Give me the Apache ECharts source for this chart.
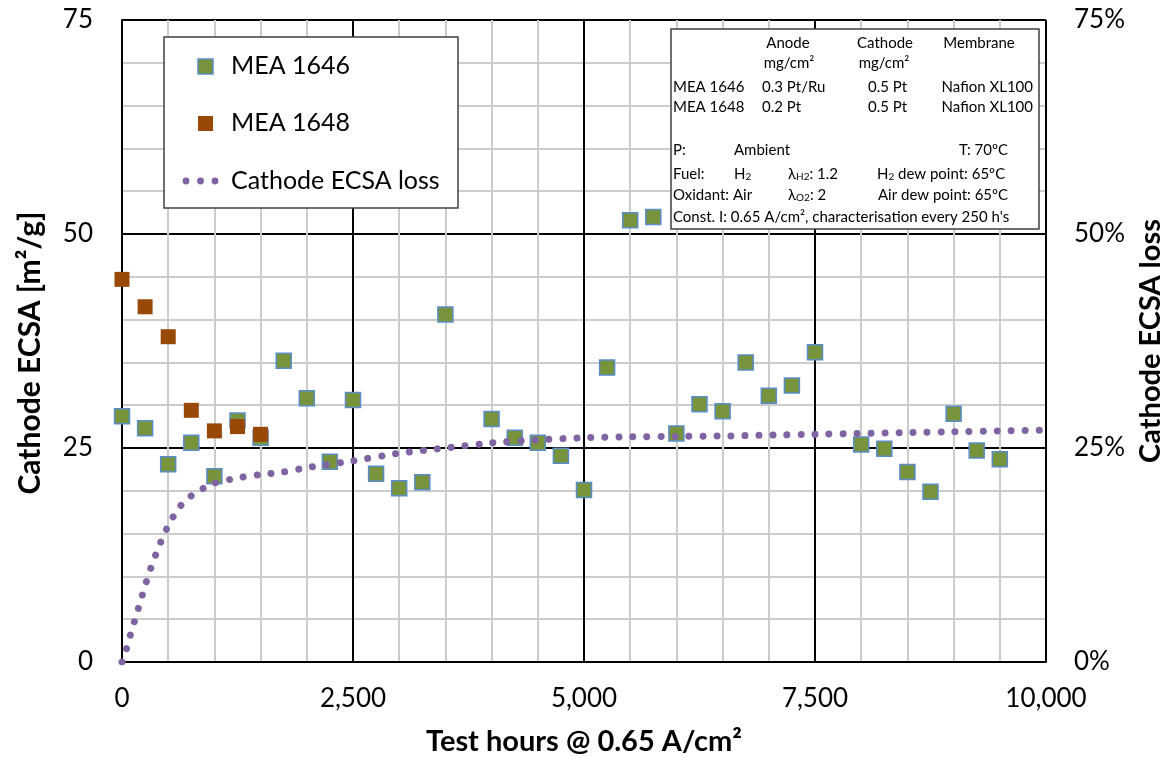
<!DOCTYPE html>
<html><head><meta charset="utf-8">
<script src="https://cdn.jsdelivr.net/npm/echarts@6/dist/echarts.min.js"></script>
<style>html,body{margin:0;padding:0;background:#fff}#chart{width:1168px;height:758px}</style>
</head><body><div id="chart"></div>
<script>
// ---- data ----
const hours1646 = [0,250,500,750,1000,1250,1500,1750,2000,2250,2500,2750,3000,3250,3500,4000,4250,4500,4750,5000,5250,5500,5750,6000,6250,6500,6750,7000,7250,7500,8000,8250,8500,8750,9000,9250,9500];
const ecsa1646 = [28.7,27.3,23.1,25.6,21.7,28.2,26.2,35.2,30.8,23.4,30.6,22.0,20.3,21.0,40.6,28.4,26.2,25.6,24.1,20.1,34.4,51.6,52.0,26.7,30.1,29.3,35.0,31.1,32.3,36.2,25.4,24.9,22.2,19.9,29.0,24.7,23.7];
const hours1648 = [0,250,500,750,1000,1250,1500];
const ecsa1648 = [44.7,41.5,38.0,29.4,27.0,27.5,26.6];
const lossHours = [0,50,100,150,200,250,300,350,400,450,500,600,700,800,900,1000,1250,1500,1750,2000,2500,3000,3500,4000,4500,5000,5500,6000,6500,7000,7500,8000,8500,9000,9500,10000];
const lossPct = [0,1.6,3.5,5.3,7.1,8.9,10.6,12.1,13.5,14.8,15.9,17.8,19.0,19.8,20.4,20.9,21.5,21.9,22.2,22.7,23.5,24.4,25.0,25.6,25.95,26.2,26.3,26.35,26.4,26.5,26.6,26.7,26.8,26.9,27.0,27.1];
const seriesNames = ['MEA 1646','MEA 1648','Cathode ECSA loss'];
const xTitle = 'Test hours @ 0.65 A/cm\u00b2';
const yTitle = 'Cathode ECSA [m\u00b2/g]';
const y2Title = 'Cathode ECSA loss';

const GREEN = '#77933C', BLUE = '#5B8DC9', ORANGE = '#984807', PURPLE = '#8064A2';
const FONT = 'Lato, "Open Sans", sans-serif';

const zip = (a, b) => a.map((v, i) => [v, b[i]]);

// ---- info box text ----
const INFO_FS = 15;
const infoItems = [
  ['Anode', 788, 43, 'center'], ['Cathode', 885, 43, 'center'], ['Membrane', 979, 43, 'center'],
  ['mg/cm\u00b2', 789, 63, 'center'], ['mg/cm\u00b2', 884, 63, 'center'],
  ['MEA 1646', 673, 87, 'left'], ['0.3 Pt/Ru', 762, 87, 'left'], ['0.5 Pt', 868, 87, 'left'], ['Nafion XL100', 1033, 87, 'right'],
  ['MEA 1648', 673, 107, 'left'], ['0.2 Pt', 762, 107, 'left'], ['0.5 Pt', 868, 107, 'left'], ['Nafion XL100', 1033, 107, 'right'],
  ['P:', 673, 150, 'left'], ['Ambient', 734, 150, 'left'], ['T: 70\u00baC', 1008, 150, 'right'],
  ['Fuel:', 673, 174, 'left'], ['H{sub|2}', 734, 174, 'left'], ['\u03bb{sub|H2}: 1.2', 788, 174, 'left'], ['H{sub|2} dew point: 65\u00baC', 877, 174, 'left'],
  ['Oxidant: Air', 673, 195, 'left'], ['\u03bb{sub|O2}: 2', 788, 195, 'left'], ['Air dew point: 65\u00baC', 878, 195, 'left'],
  ['Const. I: 0.65 A/cm\u00b2, characterisation every 250 h\'s', 673, 217, 'left']
];

const LEG_FONT = '25px ' + FONT;
const graphics = [
  // legend box
  {type:'rect', z:50, shape:{x:164, y:37, width:294, height:171}, style:{fill:'#fff', stroke:'#404040', lineWidth:1.5}},
  {type:'rect', z:51, shape:{x:198, y:59, width:15, height:15}, style:{fill:GREEN, stroke:BLUE, lineWidth:1.5}},
  {type:'text', z:51, x:231, y:66, style:{text:seriesNames[0], font:LEG_FONT, fill:'#000', textVerticalAlign:'middle'}},
  {type:'rect', z:51, shape:{x:198, y:116, width:15, height:15}, style:{fill:ORANGE}},
  {type:'text', z:51, x:231, y:123, style:{text:seriesNames[1], font:LEG_FONT, fill:'#000', textVerticalAlign:'middle'}},
  {type:'circle', z:51, shape:{cx:186, cy:181, r:3.4}, style:{fill:PURPLE}},
  {type:'circle', z:51, shape:{cx:200.5, cy:181, r:3.4}, style:{fill:PURPLE}},
  {type:'circle', z:51, shape:{cx:215, cy:181, r:3.4}, style:{fill:PURPLE}},
  {type:'text', z:51, x:231, y:181, style:{text:seriesNames[2], font:LEG_FONT, fill:'#000', textVerticalAlign:'middle'}},
  // info box
  {type:'rect', z:50, shape:{x:671, y:29, width:368, height:200}, style:{fill:'#fff', stroke:'#404040', lineWidth:1.5}}
];
infoItems.forEach(([t, x, y, al]) => {
  graphics.push({type:'text', z:51, x:x, y:y, style:{
    text:t, fontSize:INFO_FS, fontFamily:FONT, fill:'#000', align:al, verticalAlign:'middle',
    rich:{sub:{fontSize:10, fontFamily:FONT, fill:'#000', verticalAlign:'bottom', padding:[6,0,0,0]}}
  }});
});

const chart = echarts.init(document.getElementById('chart'), null, {renderer:'canvas'});
chart.setOption({
  animation:false,
  backgroundColor:'#fff',
  textStyle:{fontFamily:FONT},
  grid:{left:122, right:122, top:20, bottom:96, containLabel:false, outerBoundsMode:'none'},
  xAxis:{
    type:'value', min:0, max:10000, interval:2500,
    axisLine:{show:true, onZero:false, lineStyle:{color:'#000', width:2}},
    axisTick:{show:false},
    axisLabel:{fontSize:26, color:'#000', margin:24, fontFamily:FONT, formatter:v => v.toLocaleString('en-US')},
    splitLine:{show:true, lineStyle:{color:'#000', width:2}},
    minorTick:{show:false, splitNumber:5},
    minorSplitLine:{show:true, lineStyle:{color:'#CCCCCC', width:2}},
    name:xTitle, nameLocation:'middle', nameGap:65,
    nameTextStyle:{fontSize:29, fontWeight:'bold', color:'#000', fontFamily:FONT}
  },
  yAxis:[{
    type:'value', min:0, max:75, interval:25, position:'left',
    axisLine:{show:true, lineStyle:{color:'#000', width:2}},
    axisTick:{show:false},
    axisLabel:{fontSize:26, color:'#000', margin:29, fontFamily:FONT},
    splitLine:{show:true, lineStyle:{color:'#000', width:2}},
    minorTick:{show:false, splitNumber:5},
    minorSplitLine:{show:true, lineStyle:{color:'#CCCCCC', width:2}},
    name:yTitle, nameLocation:'middle', nameGap:77, nameRotate:90,
    nameTextStyle:{fontSize:30, fontWeight:'bold', color:'#000', fontFamily:FONT, padding:[0,24,0,0]}
  },{
    type:'value', min:0, max:75, interval:25, position:'right',
    axisLine:{show:false}, axisTick:{show:false},
    axisLabel:{fontSize:26, color:'#000', margin:28, fontFamily:FONT, formatter:'{value}%'},
    splitLine:{show:false},
    name:y2Title, nameLocation:'middle', nameGap:89, nameRotate:90,
    nameTextStyle:{fontSize:29, fontWeight:'bold', color:'#000', fontFamily:FONT}
  }],
  series:[
    {name:seriesNames[0], type:'scatter', yAxisIndex:0, data:zip(hours1646, ecsa1646),
      symbol:'rect', symbolSize:15, z:3,
      itemStyle:{color:GREEN, borderColor:BLUE, borderWidth:1.5, opacity:1}},
    {name:seriesNames[1], type:'scatter', yAxisIndex:0, data:zip(hours1648, ecsa1648),
      symbol:'rect', symbolSize:15, z:4,
      itemStyle:{color:ORANGE, opacity:1}},
    {name:seriesNames[2], type:'line', yAxisIndex:1, data:zip(lossHours, lossPct),
      showSymbol:false, symbol:'none', smooth:0.2, z:5,
      lineStyle:{color:PURPLE, width:7, type:[0.01, 14], cap:'round'}}
  ],
  graphic:graphics
});
</script></body></html>
